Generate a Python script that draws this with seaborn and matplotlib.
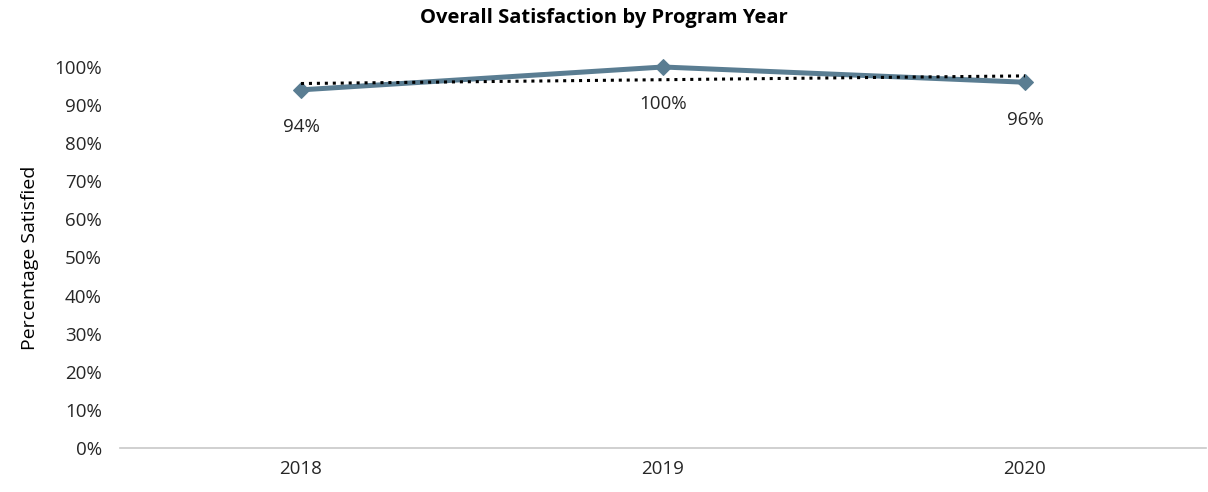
import numpy as np
import pandas as pd
import matplotlib
matplotlib.use("Agg")
import matplotlib.pyplot as plt
import seaborn as sns

years = ["2018", "2019", "2020"]
satisfied = [0.94, 1.00, 0.96]
labels = ["94%", "100%", "96%"]
y_ticks = [0, 0.1, 0.2, 0.3, 0.4, 0.5, 0.6, 0.7, 0.8, 0.9, 1.0]

sns.set_theme(style="white")
plt.rcParams['font.family'] = ['Open Sans', 'DejaVu Sans']

fig = plt.figure(figsize=(12.08, 4.92), dpi=100)
ax = fig.add_axes([120/1208, 1-448/492, (1206-120)/1208, (448-67)/492])

df = pd.DataFrame({"year": years, "value": satisfied, "x": np.arange(len(years))})
line_color = "#5A7D92"
sns.lineplot(data=df, x="x", y="value", ax=ax, color=line_color, linewidth=3.6,
             marker="D", markersize=8.5, markeredgecolor=line_color, markerfacecolor=line_color,
             clip_on=False)

# linear trendline
coef = np.polyfit(df["x"], df["value"], 1)
xt = np.array([df["x"].min(), df["x"].max()])
sns.lineplot(x=xt, y=np.polyval(coef, xt), ax=ax, color="black", linewidth=2.2,
             linestyle=(0, (1, 1.6)))

for xi, v, lab in zip(df["x"], satisfied, labels):
    ax.annotate(lab, (xi, v), xytext=(0, -27), textcoords="offset points",
                ha="center", va="center", fontsize=13.5, color="#262626")

ax.set_xlim(-0.5, 2.5)
ax.set_ylim(0, 1.0)
ax.set_xticks(df["x"])
ax.set_xticklabels(years, fontsize=13.5, color="#262626")
ax.set_yticks(y_ticks)
ax.set_yticklabels([f"{int(round(t*100))}%" for t in y_ticks], fontsize=13.5, color="#262626")
ax.tick_params(axis="y", length=0, pad=13)
ax.tick_params(axis="x", length=0, pad=9)
ax.set_xlabel("")
ax.set_ylabel("Percentage Satisfied", fontsize=14, color="black", labelpad=11)
for s in ["top", "right", "left"]:
    ax.spines[s].set_visible(False)
ax.spines["bottom"].set_color("#C8C8C8")
ax.spines["bottom"].set_linewidth(1.2)
ax.grid(False)

fig.text(0.5, 1-18/492, "Overall Satisfaction by Program Year", ha="center", va="center",
         fontsize=14.5, fontweight="bold", color="black")

fig.savefig("out.png", dpi=100)
